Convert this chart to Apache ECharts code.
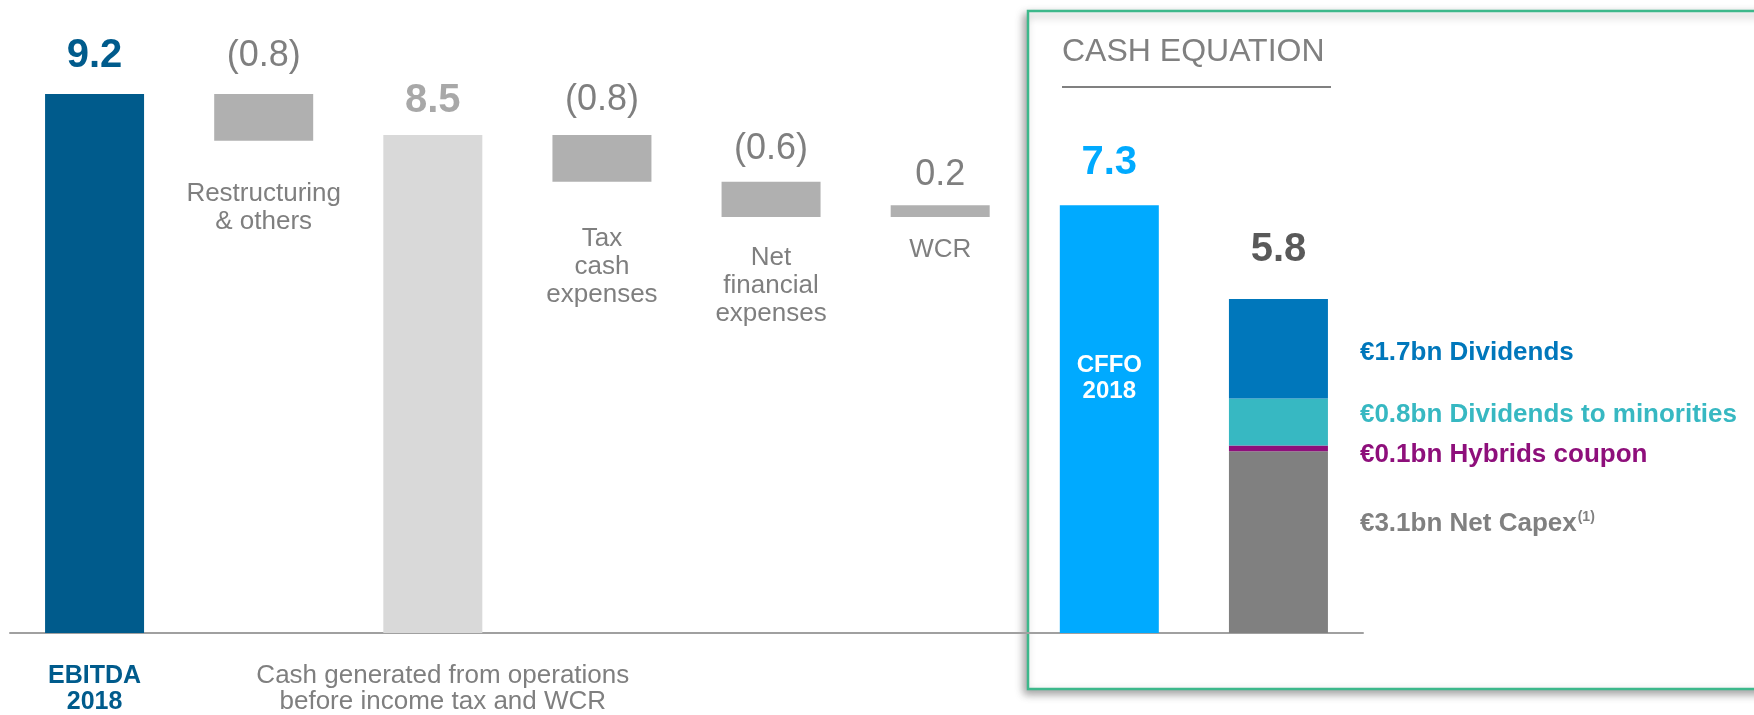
<!DOCTYPE html>
<html>
<head>
<meta charset="utf-8">
<title>Cash equation</title>
<script src="https://cdn.jsdelivr.net/npm/echarts@6/dist/echarts.min.js"></script>
<style>
  html, body { margin: 0; padding: 0; background: #fff; }
  #chart { width: 1754px; height: 715px; }
</style>
</head>
<body>
<div id="chart"></div>
<script>
// bridge from EBITDA to CFFO, then how CFFO was used
var bridgeNames = [
  "EBITDA\n2018",
  "Restructuring\n& others",
  "Cash generated from operations\nbefore income tax and WCR",
  "Tax\ncash\nexpenses",
  "Net\nfinancial\nexpenses",
  "WCR",
  "CFFO\n2018",
  "Uses"
];
var bridgeValues = [9.2, -0.8, 8.5, -0.8, -0.6, 0.2, 7.3];
var bridgeIsTotal = [true, false, true, false, false, false, true];

var usesNames = ["Net Capex", "Hybrids coupon", "Dividends to minorities", "Dividends"];
var usesValues = [3.1, 0.1, 0.8, 1.7];
var usesTotal = 5.8;

var FONT = "Liberation Sans, Arial, sans-serif";
var GREY_TXT = "#7f7f7f";

// running total -> invisible base + visible step
var bases = [];
var steps = [];
var run = 0;
for (var i = 0; i < bridgeValues.length; i++) {
  var v = bridgeValues[i];
  if (bridgeIsTotal[i]) {
    bases.push(0);
    steps.push(v);
    run = v;
  } else if (v < 0) {
    run = +(run + v).toFixed(2);
    bases.push(run);
    steps.push(-v);
  } else {
    bases.push(run);
    steps.push(v);
    run = +(run + v).toFixed(2);
  }
}
bases.push("-");
steps.push("-");

function fmtValue(i) {
  var v = bridgeValues[i];
  if (bridgeIsTotal[i] || v >= 0) return v.toFixed(1);
  return "(" + (-v).toFixed(1) + ")";
}

var stepColors = ["#005b8c", "#b0b0b0", "#d9d9d9", "#b0b0b0", "#b0b0b0", "#b0b0b0", "#00aaff"];
var stepLabelStyle = [
  { color: "#005b8c", fontWeight: "bold", fontSize: 40, distance: 18 },
  { color: GREY_TXT, fontSize: 36, distance: 20 },
  { color: "#a8a8a8", fontWeight: "bold", fontSize: 40, distance: 14 },
  { color: GREY_TXT, fontSize: 36, distance: 17 },
  { color: GREY_TXT, fontSize: 36, distance: 15 },
  { color: GREY_TXT, fontSize: 36, distance: 12 },
  { color: "#00aaff", fontWeight: "bold", fontSize: 40, distance: 22 }
];
// gap between floating bar bottom and its name
var nameGap = { 1: 39, 3: 43, 4: 27, 5: 19 };

var usesColors = ["#808080", "#8e0f7b", "#37b8c2", "#0077bb"];
var usesOffsets = [-18, 6, -7, 4];

var chart = echarts.init(document.getElementById("chart"));

var baseData = bases.map(function(b, i) {
  if (b === "-") return "-";
  var show = nameGap[i] !== undefined;
  return {
    value: b,
    label: {
      show: show,
      position: "insideTop",
      distance: show ? nameGap[i] : 0,
      formatter: bridgeNames[i],
      color: GREY_TXT,
      fontSize: 26,
      lineHeight: 28,
      fontFamily: FONT
    }
  };
});

var stepData = steps.map(function(s, i) {
  if (s === "-") return "-";
  var st = stepLabelStyle[i];
  return {
    value: s,
    itemStyle: { color: stepColors[i] },
    label: {
      show: true,
      position: "top",
      distance: st.distance,
      formatter: fmtValue(i),
      color: st.color,
      fontSize: st.fontSize,
      fontWeight: st.fontWeight || "normal",
      lineHeight: st.fontSize,
      fontFamily: FONT
    }
  };
});

// overlay: CFFO name inside bar, total on top of uses
var overlayData = bridgeNames.map(function(n, i) {
  if (i === 6) {
    return {
      value: bridgeValues[6],
      label: {
        show: true,
        position: "insideTop",
        distance: 147,
        formatter: n,
        color: "#fff",
        fontWeight: "bold",
        fontSize: 24,
        lineHeight: 26,
        fontFamily: FONT
      }
    };
  }
  if (i === 7) {
    return {
      value: usesTotal,
      label: {
        show: true,
        position: "top",
        distance: 23,
        formatter: usesTotal.toFixed(1),
        color: "#595959",
        fontWeight: "bold",
        fontSize: 40,
        lineHeight: 40,
        fontFamily: FONT
      }
    };
  }
  return "-";
});

var series = [
  {
    name: "base",
    type: "bar",
    stack: "wf",
    barWidth: 99,
    barGap: "-100%",
    silent: true,
    itemStyle: { color: "transparent" },
    data: baseData
  },
  {
    name: "step",
    type: "bar",
    stack: "wf",
    barWidth: 99,
    barGap: "-100%",
    data: stepData
  }
];

usesNames.forEach(function(name, k) {
  var lbl = "€" + usesValues[k].toFixed(1) + "bn " + name;
  series.push({
    name: name,
    type: "bar",
    stack: "wf",
    barWidth: 99,
    barGap: "-100%",
    itemStyle: { color: usesColors[k] },
    label: {
      show: true,
      position: "right",
      distance: 32,
      offset: [0, usesOffsets[k]],
      formatter: k === 0 ? "{m|" + lbl + "}{s|(1)}" : lbl,
      color: usesColors[k],
      fontWeight: "bold",
      fontSize: 26,
      fontFamily: FONT,
      rich: {
        m: { color: usesColors[k], fontWeight: "bold", fontSize: 26, fontFamily: FONT, lineHeight: 28 },
        s: { color: usesColors[k], fontWeight: "bold", fontSize: 14, fontFamily: FONT, verticalAlign: "top", lineHeight: 28, padding: [0, 0, 12, 1] }
      }
    },
    data: bridgeNames.map(function(_, i) {
      return i === 7 ? usesValues[k] : "-";
    })
  });
});

series.push({
  name: "overlay",
  type: "bar",
  stack: "ov",
  barWidth: 99,
  barGap: "-100%",
  silent: true,
  itemStyle: { color: "transparent" },
  data: overlayData
});

series.forEach(function(s) {
  s.emphasis = { disabled: true };
});

var option = {
  animation: false,
  backgroundColor: "#fff",
  grid: { left: 10, right: 391, top: 47, bottom: 81 },
  xAxis: {
    type: "category",
    data: bridgeNames,
    axisLine: { lineStyle: { color: "#a0a0a0", width: 2 } },
    axisTick: { show: false },
    axisLabel: {
      interval: 0,
      margin: 30,
      formatter: function(value, index) {
        var lines = value.split("\n");
        if (index === 0) {
          return lines.map(function(l) { return "{e|" + l + "}"; }).join("\n");
        }
        if (index === 2) {
          return lines.map(function(l) { return "{c|" + l + "}"; }).join("\n");
        }
        return "";
      },
      rich: {
        e: { color: "#005b8c", fontWeight: "bold", fontSize: 25, lineHeight: 26, fontFamily: FONT },
        c: { color: GREY_TXT, fontSize: 26, lineHeight: 26, fontFamily: FONT, padding: [0, 0, 0, 20] }
      }
    }
  },
  yAxis: { type: "value", min: 0, max: 10, show: false },
  graphic: [
    {
      type: "rect",
      z: -10,
      shape: { x: 1028, y: 11, width: 760, height: 678 },
      style: {
        fill: "#fff",
        stroke: "#3db88b",
        lineWidth: 2.5,
        shadowBlur: 8,
        shadowColor: "rgba(0,0,0,0.35)",
        shadowOffsetX: -3,
        shadowOffsetY: 4
      }
    },
    {
      type: "text",
      z: 10,
      x: 1062,
      y: 52,
      style: {
        text: "CASH EQUATION",
        fill: "#808080",
        font: "32px " + FONT,
        textVerticalAlign: "middle",
        verticalAlign: "middle"
      }
    },
    {
      type: "line",
      z: 10,
      shape: { x1: 1062, y1: 87, x2: 1331, y2: 87 },
      style: { stroke: "#808080", lineWidth: 2 }
    }
  ],
  series: series
};

chart.setOption(option);
</script>
</body>
</html>
